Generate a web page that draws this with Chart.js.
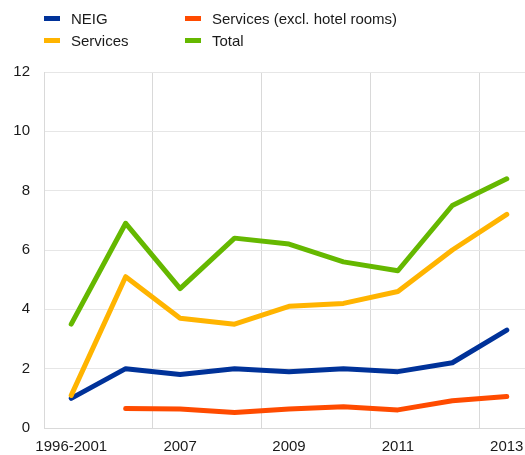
<!DOCTYPE html>
<html>
<head>
<meta charset="utf-8">
<script src="https://cdn.jsdelivr.net/npm/chart.js@4.4.0/dist/chart.umd.min.js"></script>
<style>
  html, body { margin: 0; padding: 0; background: #fff; overflow: hidden; width: 525px; height: 455px; }
  .wrap { position: relative; width: 525px; height: 455px; overflow: hidden; font-family: 'Liberation Sans', Arial, sans-serif; }
  .chart-box { position: absolute; left: 0; top: 0; width: 536px; height: 455px; }
  .legend { position: absolute; left: 44px; top: 9px; display: grid; grid-template-columns: 141px auto; row-gap: 3px; font-size: 15px; color: #1a1a1a; }
  .legend-item { display: flex; align-items: center; height: 19px; }
  .legend-swatch { width: 16px; height: 5px; margin-right: 11px; }
</style>
</head>
<body>
<div class="wrap">
  <div class="chart-box"><canvas id="chart" width="536" height="455"></canvas></div>
  <div class="legend" id="legend"></div>
</div>
<script>
(function () {
  'use strict';

  const categories = ['1996-2001', '2006', '2007', '2008', '2009', '2010', '2011', '2012', '2013'];
  const yTicks = [0, 2, 4, 6, 8, 10, 12];

  const neig = [1.0, 2.0, 1.8, 2.0, 1.9, 2.0, 1.9, 2.2, 3.3];
  const services = [1.1, 5.1, 3.7, 3.5, 4.1, 4.2, 4.6, 6.0, 7.2];
  const servicesExHotel = [null, 0.66, 0.64, 0.52, 0.64, 0.72, 0.61, 0.92, 1.06];
  const total = [3.5, 6.9, 4.7, 6.4, 6.2, 5.6, 5.3, 7.5, 8.4];

  // legend is laid out row by row: NEIG | Services (excl.), Services | Total
  const series = [
    { label: 'NEIG', data: neig, color: '#003299', order: 1 },
    { label: 'Services (excl. hotel rooms)', data: servicesExHotel, color: '#ff4b00', order: 3 },
    { label: 'Services', data: services, color: '#ffb400', order: 0 },
    { label: 'Total', data: total, color: '#65b800', order: 2 }
  ];

  const legendEl = document.getElementById('legend');
  legendEl.innerHTML = series.map(s =>
    `<div class="legend-item"><span class="legend-swatch" style="background:${s.color}"></span>${s.label}</div>`
  ).join('');

  const gridGrey = '#d9d9d9';
  const tickFont = { family: "'Liberation Sans', Arial, sans-serif", size: 15 };

  new Chart(document.getElementById('chart'), {
    type: 'line',
    data: {
      labels: categories,
      datasets: series.map(s => ({
        label: s.label,
        data: s.data,
        borderColor: s.color,
        backgroundColor: s.color,
        borderWidth: 5,
        borderCapStyle: 'round',
        borderJoinStyle: 'round',
        pointRadius: 0,
        tension: 0,
        order: s.order
      }))
    },
    options: {
      responsive: false,
      animation: false,
      layout: { padding: { top: 72, right: 2, left: 0, bottom: 0 } },
      plugins: { legend: { display: false }, tooltip: { enabled: false } },
      scales: {
        x: {
          offset: true,
          grid: {
            offset: true,
            drawTicks: false,
            color: ctx => (ctx.index % 2 === 0 ? gridGrey : 'rgba(0,0,0,0)')
          },
          border: { display: true, color: gridGrey },
          ticks: {
            autoSkip: false,
            maxRotation: 0,
            padding: 10,
            color: '#1a1a1a',
            font: tickFont,
            callback: function (value, index) {
              return index % 2 === 0 ? this.getLabelForValue(value) : '';
            }
          },
          afterFit: scale => { scale.height = 27; }
        },
        y: {
          min: 0,
          max: 12,
          afterBuildTicks: scale => { scale.ticks = yTicks.map(v => ({ value: v })); },
          grid: { drawTicks: false, color: '#e6e6e6' },
          border: { display: true, color: gridGrey },
          ticks: { padding: 14, color: '#1a1a1a', font: tickFont },
          afterFit: scale => { scale.width = 44; }
        }
      }
    }
  });
})();
</script>
</body>
</html>
